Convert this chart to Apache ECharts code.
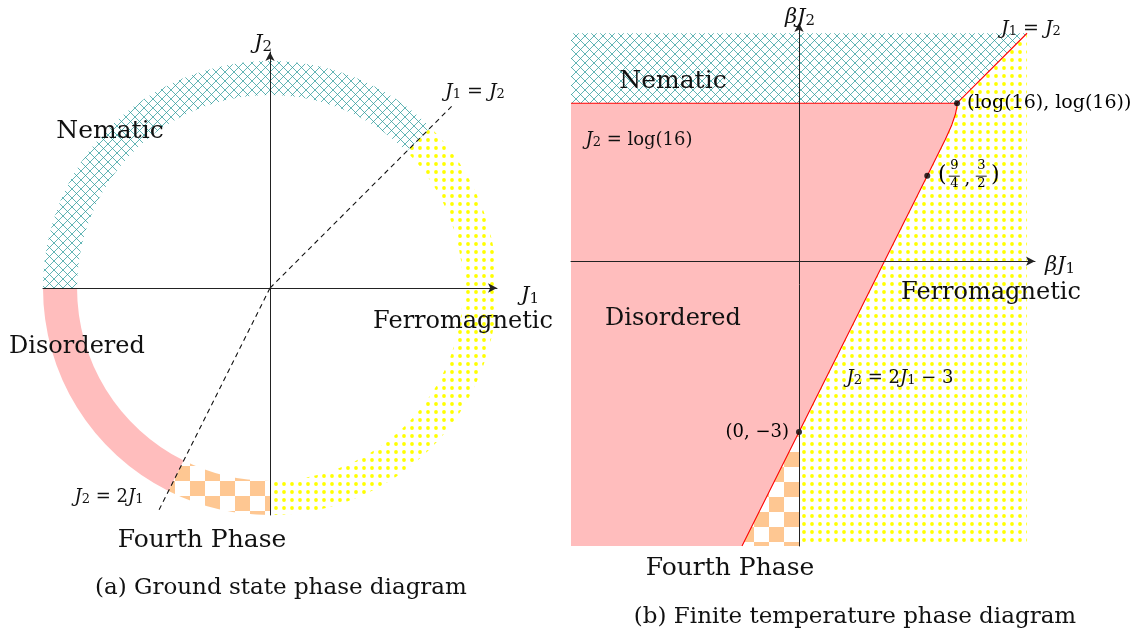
<!DOCTYPE html>
<html>
<head>
<meta charset="utf-8">
<script src="https://cdn.jsdelivr.net/npm/echarts@6/dist/echarts.min.js"></script>
<style>
  html, body { margin: 0; padding: 0; background: #ffffff; }
  #chart { width: 1141px; height: 634px; }
</style>
</head>
<body>
<div id="chart"></div>
<script>
// ---------- (a) ground state: phases around the circle of couplings ----------
const ringPhaseNames = ['Nematic', 'Ferromagnetic', 'Disordered', 'Fourth Phase'];
const ringStartDeg = [45, -90, 180, 243.43];
const ringEndDeg = [180, 45, 243.43, 270];
const ringRadius = [0.85, 1.0];                 // inner, outer
const lineJ1eqJ2 = [[0, 0], [0.8, 0.8]];        // J1 = J2
const lineJ2eq2J1 = [[0, 0], [-0.49, -0.98]];   // J2 = 2 J1

// ---------- (b) finite temperature: regions in the (βJ1, βJ2) plane ----------
const logSixteen = Math.log(16);
const frameJ1 = [-4, 4];
const frameJ2 = [-5, 4];
// curved boundary from (9/4, 3/2) up to (log16, log16)
const curveJ1 = [2.25, 2.409, 2.566, 2.680, 2.745, 2.769, logSixteen];
const curveJ2 = [1.5, 1.818, 2.136, 2.391, 2.582, 2.709, logSixteen];
// straight boundary J2 = 2 J1 - 3
const slopeLineJ1 = [-1, 0, 2.25];
const slopeLineJ2 = [-5, -3, 1.5];
// marked points
const markedJ1 = [0, 2.25, logSixteen];
const markedJ2 = [-3, 1.5, logSixteen];

// ---------- geometry built from the arrays above ----------
const curve = curveJ1.map((x, i) => [x, curveJ2[i]]);
const slopeLine = slopeLineJ1.map((x, i) => [x, slopeLineJ2[i]]);
const corner = [logSixteen, logSixteen];
const [xl, xr] = frameJ1;
const [yb, yt] = frameJ2;

const nematicPoly = [[xl, yt], [xr, yt], corner, [xl, logSixteen]];
const disorderedPoly = [[xl, logSixteen]].concat(curve.slice().reverse(), [slopeLine[1], slopeLine[0], [xl, yb]]);
const ferroPoly = [[xr, yt], [xr, yb], [0, yb], slopeLine[1]].concat(curve);
const fourthPoly = [slopeLine[1], [0, yb], slopeLine[0]];

const topBoundary = [[xl, logSixteen], corner, [xr, yt]];
const lowerBoundary = slopeLine.concat(curve.slice(1));

// ---------- fill patterns ----------
function tile(w, h, paint) {
  const c = document.createElement('canvas');
  c.width = w; c.height = h;
  paint(c.getContext('2d'));
  return c;
}
// crisp pixel crosshatch, 9 px period
const hatch = 9;
const crossTile = tile(hatch, hatch, g => {
  g.fillStyle = '#62b5b5';
  for (let i = 0; i < hatch; i++) {
    g.fillRect(i, i, 1, 1);
    g.fillRect(hatch - 1 - i, i, 1, 1);
  }
  g.fillStyle = '#3f9e9e';
  g.fillRect(4, 4, 1, 1);
});
const dotTile = tile(8, 8, g => {
  g.fillStyle = '#ffff00';
  g.beginPath();
  g.arc(4, 4, 1.9, 0, Math.PI * 2);
  g.fill();
});
const checkTile = tile(30, 30, g => {
  g.fillStyle = '#fec792';
  g.fillRect(0, 0, 15, 15);
  g.fillRect(15, 15, 15, 15);
});
const pinkFill = '#ffbdbd';
const crossFill = { image: crossTile, repeat: 'repeat' };
const dotFill = { image: dotTile, repeat: 'repeat' };
const checkFillA = { image: checkTile, repeat: 'repeat', x: 10, y: 1 };
const checkFillB = { image: checkTile, repeat: 'repeat', x: 4, y: 2 };
const ringFillByName = {
  'Nematic': crossFill,
  'Ferromagnetic': dotFill,
  'Disordered': pinkFill,
  'Fourth Phase': checkFillA
};

// ---------- text helpers ----------
const serif = '"DejaVu Serif", "Liberation Serif", serif';
const ink = '#111111';
function text(x, y, str, size) {
  return {
    type: 'text', x: x, y: y, z: 30, silent: true,
    style: { text: str, fontFamily: serif, fontSize: size, fill: ink, align: 'center', verticalAlign: 'middle' }
  };
}
// inline math: {i|..} italic, {s|..} subscript, {n|..} upright
function math(x, y, str, size) {
  const tall = Math.round(size * 1.3);
  const sub = Math.round(size * 0.7);
  return {
    type: 'text', x: x, y: y, z: 30, silent: true,
    style: {
      text: str, fontFamily: serif, fontSize: size, fill: ink, lineHeight: tall,
      align: 'center', verticalAlign: 'middle',
      rich: {
        i: { fontFamily: serif, fontStyle: 'italic', fontSize: size, lineHeight: tall, verticalAlign: 'bottom', fill: ink },
        n: { fontFamily: serif, fontSize: size, lineHeight: tall, verticalAlign: 'bottom', fill: ink },
        s: { fontFamily: serif, fontSize: sub, lineHeight: sub, verticalAlign: 'bottom', fill: ink }
      }
    }
  };
}

// ---------- series helpers ----------
function polygonSeries(points, fill, gi) {
  return {
    type: 'custom', xAxisIndex: gi, yAxisIndex: gi, z: 1, silent: true,
    data: points,
    renderItem: function (params, api) {
      if (params.dataIndex !== 0) return null;
      return {
        type: 'polygon',
        shape: { points: points.map(p => api.coord(p)) },
        style: { fill: fill, stroke: null }
      };
    }
  };
}
function lineSeries(points, gi, color, type) {
  return {
    type: 'line', xAxisIndex: gi, yAxisIndex: gi, z: 4, silent: true,
    data: points, showSymbol: false, animation: false,
    lineStyle: { color: color, width: 1.1, type: type || 'solid' }
  };
}
function axisCommon(gi, min, max) {
  return {
    type: 'value', gridIndex: gi, min: min, max: max, z: 10,
    axisLine: {
      onZero: true, symbol: ['none', 'arrow'], symbolSize: [7, 9],
      lineStyle: { color: '#222', width: 1 }
    },
    axisTick: { show: false }, axisLabel: { show: false }, splitLine: { show: false }
  };
}

const markLabels = ['(0, \u22123)', '', '(log(16), log(16))'];
const markSides = ['left', 'right', 'right'];
const markSizes = [18, 18, 19];

const option = {
  animation: false,
  backgroundColor: '#ffffff',
  grid: [
    { left: 43, top: 52, width: 454, height: 463 },
    { left: 571, top: 23, width: 464, height: 523 }
  ],
  xAxis: [axisCommon(0, -1, 1), axisCommon(1, -4, 4.14)],
  yAxis: [axisCommon(0, -1, 1.04), axisCommon(1, -5, 4.18)],
  series: [
    // (a) ring of phases
    {
      type: 'custom', xAxisIndex: 0, yAxisIndex: 0, z: 1, silent: true,
      data: ringStartDeg.map((s, i) => [s, ringEndDeg[i]]),
      renderItem: function (params, api) {
        const a0 = api.value(0) * Math.PI / 180;
        const a1 = api.value(1) * Math.PI / 180;
        const c = api.coord([0, 0]);
        const rIn = api.size([ringRadius[0], 0])[0];
        const rOut = api.size([ringRadius[1], 0])[0];
        return {
          type: 'sector',
          shape: { cx: c[0], cy: c[1], r0: rIn, r: rOut, startAngle: -a1, endAngle: -a0, clockwise: true },
          style: { fill: ringFillByName[ringPhaseNames[params.dataIndex]], stroke: null }
        };
      }
    },
    lineSeries(lineJ1eqJ2, 0, '#111', [5, 4]),
    lineSeries(lineJ2eq2J1, 0, '#111', [5, 4]),

    // (b) phase regions
    polygonSeries(nematicPoly, crossFill, 1),
    polygonSeries(disorderedPoly, pinkFill, 1),
    polygonSeries(ferroPoly, dotFill, 1),
    polygonSeries(fourthPoly, checkFillB, 1),
    lineSeries(topBoundary, 1, '#ff0000'),
    lineSeries(lowerBoundary, 1, '#ff0000'),
    {
      type: 'scatter', xAxisIndex: 1, yAxisIndex: 1, z: 6, silent: true,
      symbolSize: 6, itemStyle: { color: '#000' },
      data: markedJ1.map((x, i) => ({
        value: [x, markedJ2[i]],
        label: {
          show: markLabels[i] !== '', position: markSides[i], distance: 7,
          formatter: markLabels[i], fontFamily: serif, fontSize: markSizes[i],
          color: '#000', opacity: 1, textBorderWidth: 0
        }
      }))
    },
    // fraction label (9/4, 3/2) next to its point
    {
      type: 'custom', xAxisIndex: 1, yAxisIndex: 1, z: 6, silent: true,
      data: [[markedJ1[1], markedJ2[1]]],
      renderItem: function (params, api) {
        const p = api.coord([api.value(0), api.value(1)]);
        const t = (dx, dy, s, size) => ({
          type: 'text', x: p[0] + dx, y: p[1] + dy,
          style: { text: s, fontFamily: serif, fontSize: size, fill: '#000', align: 'center', verticalAlign: 'middle' }
        });
        const bar = (dx) => ({
          type: 'line', shape: { x1: p[0] + dx - 5.5, y1: p[1] + 0.5, x2: p[0] + dx + 5.5, y2: p[1] + 0.5 },
          style: { stroke: '#000', lineWidth: 0.9 }
        });
        return {
          type: 'group',
          children: [
            t(15, 0, '(', 22),
            t(27, -10, '9', 13), bar(27), t(27, 8, '4', 13),
            t(40, 4, ',', 18),
            t(54, -10, '3', 13), bar(54), t(54, 8, '2', 13),
            t(68, 0, ')', 22)
          ]
        };
      }
    }
  ],
  graphic: [
    // (a)
    math(263, 41, '{i|J}{s|2}', 21),
    math(530, 293, '{i|J}{s|1}', 21),
    math(475, 89, '{i|J}{s|1}{n| = }{i|J}{s|2}', 19),
    math(109, 495, '{i|J}{s|2}{n| = 2}{i|J}{s|1}', 18),
    text(110, 131, 'Nematic', 25),
    text(77, 347, 'Disordered', 24),
    text(463, 322, 'Ferromagnetic', 24),
    text(202, 540, 'Fourth Phase', 25),
    text(281, 588, '(a) Ground state phase diagram', 23),
    // (b)
    math(800, 15, '{i|\u03b2J}{s|2}', 21),
    math(1060, 263, '{i|\u03b2J}{s|1}', 21),
    math(1031, 26, '{i|J}{s|1}{n| = }{i|J}{s|2}', 19),
    math(639, 138, '{i|J}{s|2}{n| = log(16)}', 18),
    math(900, 376, '{i|J}{s|2}{n| = 2}{i|J}{s|1}{n| \u2212 3}', 18),
    text(673, 81, 'Nematic', 25),
    text(673, 319, 'Disordered', 24),
    text(991, 293, 'Ferromagnetic', 24),
    text(730, 568, 'Fourth Phase', 25),
    text(855, 617, '(b) Finite temperature phase diagram', 23)
  ]
};

const chart = echarts.init(document.getElementById('chart'), null, { renderer: 'canvas' });
chart.setOption(option);
</script>
</body>
</html>
